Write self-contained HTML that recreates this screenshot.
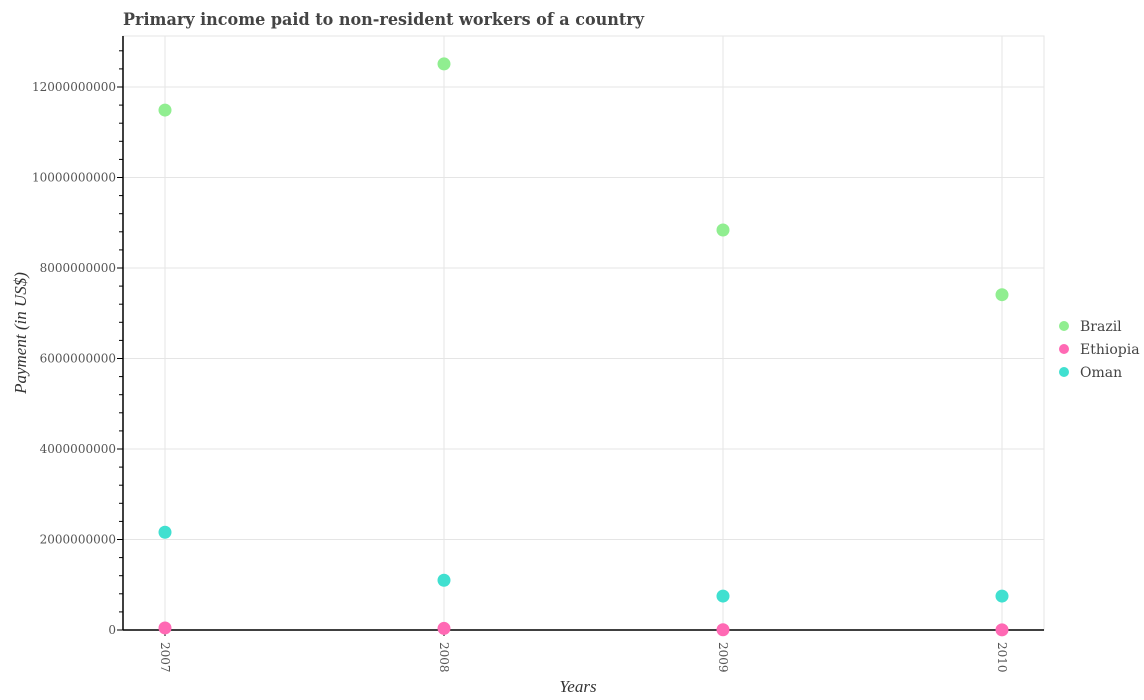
<!DOCTYPE html>
<html><head><meta charset="utf-8"><style>
body{margin:0;background:#fff;}
svg{display:block;font-family:"Liberation Serif",serif;}
</style></head><body>
<svg id="chart" width="1144" height="700">
<text x="123" y="25" font-size="16.5" font-weight="bold" fill="#444" font-family="DejaVu Serif, serif" textLength="521" lengthAdjust="spacingAndGlyphs">Primary income paid to non-resident workers of a country</text>
<g id="grid"></g><g id="axes"></g><g id="marks"></g>
<text transform="translate(26,333) rotate(-90)" text-anchor="middle" font-size="17" font-style="italic" fill="#333">Payment (in US$)</text>
<text x="578" y="692" text-anchor="middle" font-size="17" font-style="italic" fill="#333">Years</text>
<g id="legend"></g>
</svg>
<script>
const years=["2007","2008","2009","2010"];
const brazil=[11.49e9,12.51e9,8.84e9,7.41e9];
const ethiopia=[0.045e9,0.035e9,0.005e9,0.003e9];
const oman=[2.16e9,1.10e9,0.75e9,0.75e9];
const yTicks=[0,2e9,4e9,6e9,8e9,10e9,12e9];
const seriesNames=["Brazil","Ethiopia","Oman"];
const colors=["#90ee90","#ff69b4","#40e0d0"];
const NS="http://www.w3.org/2000/svg";
const L=123,R=1044,T=36,B=630;
const y=v=>B-v/12e9*543;
const x=i=>165+i*279;
function mk(p,t,a){const e=document.createElementNS(NS,t);for(const k in a)e.setAttribute(k,a[k]);p.appendChild(e);return e;}
const grid=document.getElementById('grid'),axes=document.getElementById('axes'),marks=document.getElementById('marks'),legend=document.getElementById('legend');
mk(grid,'rect',{x:L,y:T,width:R-L,height:B-T,fill:'none',stroke:'#e5e5e5'});
yTicks.forEach(v=>{
 const g=mk(grid,'line',{x1:L,x2:R,y1:y(v),y2:y(v),stroke:'#e5e5e5'});
 
 
 mk(axes,'line',{x1:L-6,x2:L,y1:y(v),y2:y(v),stroke:'#000'});
 const t=mk(axes,'text',{x:L-7,y:y(v)+4,'text-anchor':'end','font-size':12,fill:'#555','font-family':'DejaVu Serif, serif'});
 t.textContent=v.toFixed(0);
 
 
});
for(let v=4e8;v<13e9;v+=4e8){ if(Math.abs(v/2e9-Math.round(v/2e9))>0.01) mk(axes,'line',{x1:L-4,x2:L,y1:y(v),y2:y(v),stroke:'#000'}); }
years.forEach((yr,i)=>{
 const g=mk(grid,'line',{x1:x(i),x2:x(i),y1:T,y2:B,stroke:'#e5e5e5'});
 
 
 mk(axes,'line',{x1:x(i),x2:x(i),y1:B,y2:B+6,stroke:'#000'});
 const t=mk(axes,'text',{transform:`translate(${x(i)-4},${B+12}) rotate(90)`,'font-size':12,fill:'#555','font-family':'DejaVu Serif, serif'});
 t.textContent=yr;
 
 
});
mk(axes,'line',{x1:L,x2:L,y1:T,y2:B,stroke:'#000','stroke-width':1.5});
mk(axes,'line',{x1:L,x2:R,y1:B,y2:B,stroke:'#000','stroke-width':1.5});
[brazil,ethiopia,oman].forEach((s,si)=>{
 s.forEach((v,i)=>{
  const c=mk(marks,'circle',{cx:x(i),cy:y(v),r:6.5,fill:colors[si]});
  
  
 });
});
seriesNames.forEach((n,i)=>{
 const g=mk(legend,'g',{});
 
 
 mk(g,'circle',{cx:1064,cy:326+i*23,r:5,fill:colors[i]});
 const t=mk(g,'text',{x:1080,y:331+i*23,'font-size':14,fill:'#444','font-family':'DejaVu Serif, serif'});
 t.textContent=n;
});
</script>
</body></html>
